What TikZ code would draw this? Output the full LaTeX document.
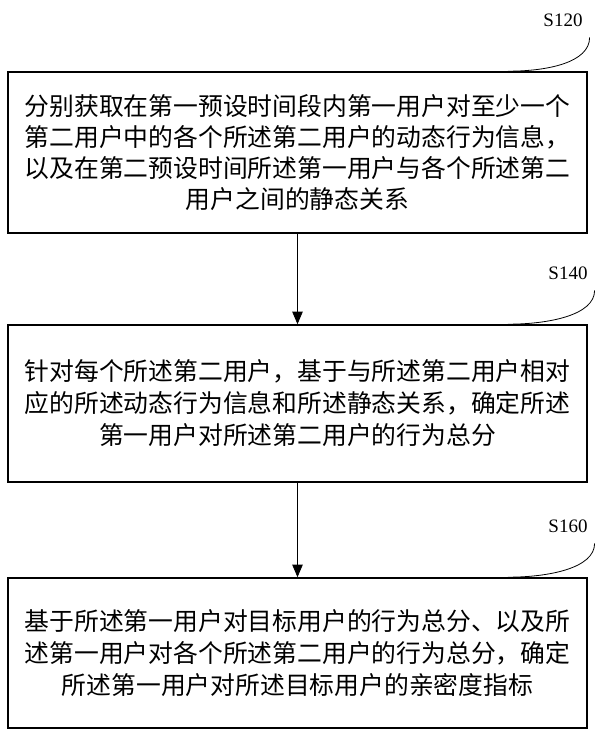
\documentclass[tikz,border=0pt]{standalone}
\usepackage{fontspec}
\setmainfont{Liberation Serif}
\newfontfamily\cjk{Noto Sans CJK SC}
\usetikzlibrary{arrows}

\begin{document}
\begin{tikzpicture}[x=0.5pt,y=-0.5pt]
\tikzset{stepbox/.style={draw, thick, minimum width=289.5pt, text width=282pt, align=center, inner sep=0pt,
   font=\cjk\fontsize{12.4pt}{15.5pt}\selectfont},
   steplabel/.style={font=\fontsize{9.5pt}{11pt}\selectfont, anchor=center}}
\useasboundingbox (0,0) rectangle (600,736);

\node [stepbox, minimum height=80.5pt] (b1) at (297.5,152.5)
{分别获取在第一预设时间段内第一用户对至少一个\\第二用户中的各个所述第二用户的动态行为信息，\\以及在第二预设时间所述第一用户与各个所述第二\\用户之间的静态关系};
\node [stepbox, minimum height=78.5pt, font=\cjk\fontsize{12.4pt}{16pt}\selectfont] (b2) at (297.5,403.5)
{针对每个所述第二用户，基于与所述第二用户相对\\应的所述动态行为信息和所述静态关系，确定所述\\第一用户对所述第二用户的行为总分};
\node [stepbox, minimum height=75pt, font=\cjk\fontsize{12.4pt}{16pt}\selectfont] (b3) at (297.5,653)
{基于所述第一用户对目标用户的行为总分、以及所\\述第一用户对各个所述第二用户的行为总分，确定\\所述第一用户对所述目标用户的亲密度指标};

\node [steplabel] (l1) at (563,20) {S120};
\node [steplabel] (l2) at (568,273) {S140};
\node [steplabel] (l3) at (568,526) {S160};

\foreach \l/\b in {l1/b1, l2/b2, l3/b3}
{
\draw (\l.south east) ++(0,4) .. controls +(0,25) and +(40,0) .. ([xshift=-40pt]\b.north east);
}

\draw [-triangle 45] (b1.south) -- (b2.north);
\draw [-triangle 45] (b2.south) -- (b3.north);
\end{tikzpicture}
\end{document}
